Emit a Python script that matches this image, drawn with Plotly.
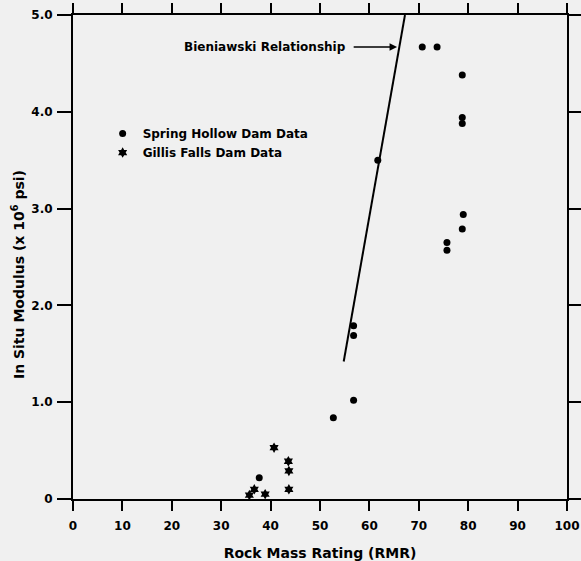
import plotly.graph_objects as go

# Spring Hollow Dam in-situ modulus measurements
spring_rmr = [70.7, 73.7, 78.8, 78.8, 78.8, 79.0, 78.8, 75.7, 75.7, 61.7, 56.8, 56.8, 56.8, 52.7, 37.7]
spring_modulus = [4.67, 4.67, 4.38, 3.94, 3.88, 2.94, 2.79, 2.65, 2.57, 3.50, 1.79, 1.69, 1.02, 0.84, 0.22]

# Gillis Falls Dam in-situ modulus measurements
gillis_rmr = [40.7, 43.6, 43.7, 43.7, 36.7, 35.7, 38.9]
gillis_modulus = [0.53, 0.39, 0.29, 0.10, 0.10, 0.04, 0.05]

# Bieniawski relationship (E = 2 RMR - 100), expressed in 10^6 psi
bieniawski_rmr = [54.8, 67.2]
bieniawski_modulus = [1.42, 5.0]

x_ticks = [0, 10, 20, 30, 40, 50, 60, 70, 80, 90, 100]
y_ticks = [0, 1, 2, 3, 4, 5]
y_tick_labels = ["0", "1.0", "2.0", "3.0", "4.0", "5.0"]

FONT = "DejaVu Sans, Verdana, sans-serif"
BG = "#f0f0f0"

fig = go.Figure()

fig.add_trace(go.Scatter(
    x=bieniawski_rmr, y=bieniawski_modulus, mode="lines",
    line=dict(color="black", width=2), showlegend=False, hoverinfo="skip",
))

fig.add_trace(go.Scatter(
    x=spring_rmr, y=spring_modulus, mode="markers", name="Spring Hollow Dam Data",
    marker=dict(symbol="circle", size=7, color="black"),
))

fig.add_trace(go.Scatter(
    x=gillis_rmr, y=gillis_modulus, mode="markers", name="Gillis Falls Dam Data",
    marker=dict(symbol="hexagram", size=8, color="black"),
))

fig.add_annotation(
    x=65.6, y=4.67, xref="x", yref="y",
    ax=38.9, ay=4.67, axref="x", ayref="y",
    text="Bieniawski Relationship",
    showarrow=True, arrowhead=2, arrowsize=1, arrowwidth=1.5, arrowcolor="black",
    standoff=0, startstandoff=6,
    font=dict(family=FONT, size=12, color="black", weight="bold"),
)

# Vertical axis title, placed slightly below the axis midpoint
fig.add_annotation(
    x=-0.111, y=0.463, xref="paper", yref="paper",
    xanchor="center", yanchor="middle",
    text="In Situ Modulus (x 10<sup>6</sup> psi)", textangle=-90, showarrow=False,
    font=dict(family=FONT, size=14, color="black", weight="bold"),
)

axis_common = dict(
    showline=True, linecolor="black", linewidth=2, mirror="ticks",
    ticks="outside", tickcolor="black", tickwidth=2,
    showgrid=False, zeroline=False, automargin=False,
    tickfont=dict(family=FONT, size=12, color="black", weight="bold"),
)

fig.update_xaxes(
    range=[0, 100], tickvals=x_ticks, ticklen=10, ticklabelstandoff=5,
    title=dict(text="Rock Mass Rating (RMR)", standoff=20,
               font=dict(family=FONT, size=14, color="black", weight="bold")),
    **axis_common,
)
fig.update_yaxes(
    range=[0, 5], tickvals=y_ticks, ticktext=y_tick_labels, ticklen=14, ticklabelstandoff=2,
    **axis_common,
)

fig.update_layout(
    width=581, height=561,
    margin=dict(l=73, r=14, t=15, b=62),
    paper_bgcolor=BG, plot_bgcolor=BG,
    legend=dict(
        x=0.06, y=0.785, xanchor="left", yanchor="top",
        bgcolor="rgba(0,0,0,0)", tracegroupgap=0,
        font=dict(family=FONT, size=12, color="black", weight="bold"),
    ),
)

fig.write_html("out.html")
